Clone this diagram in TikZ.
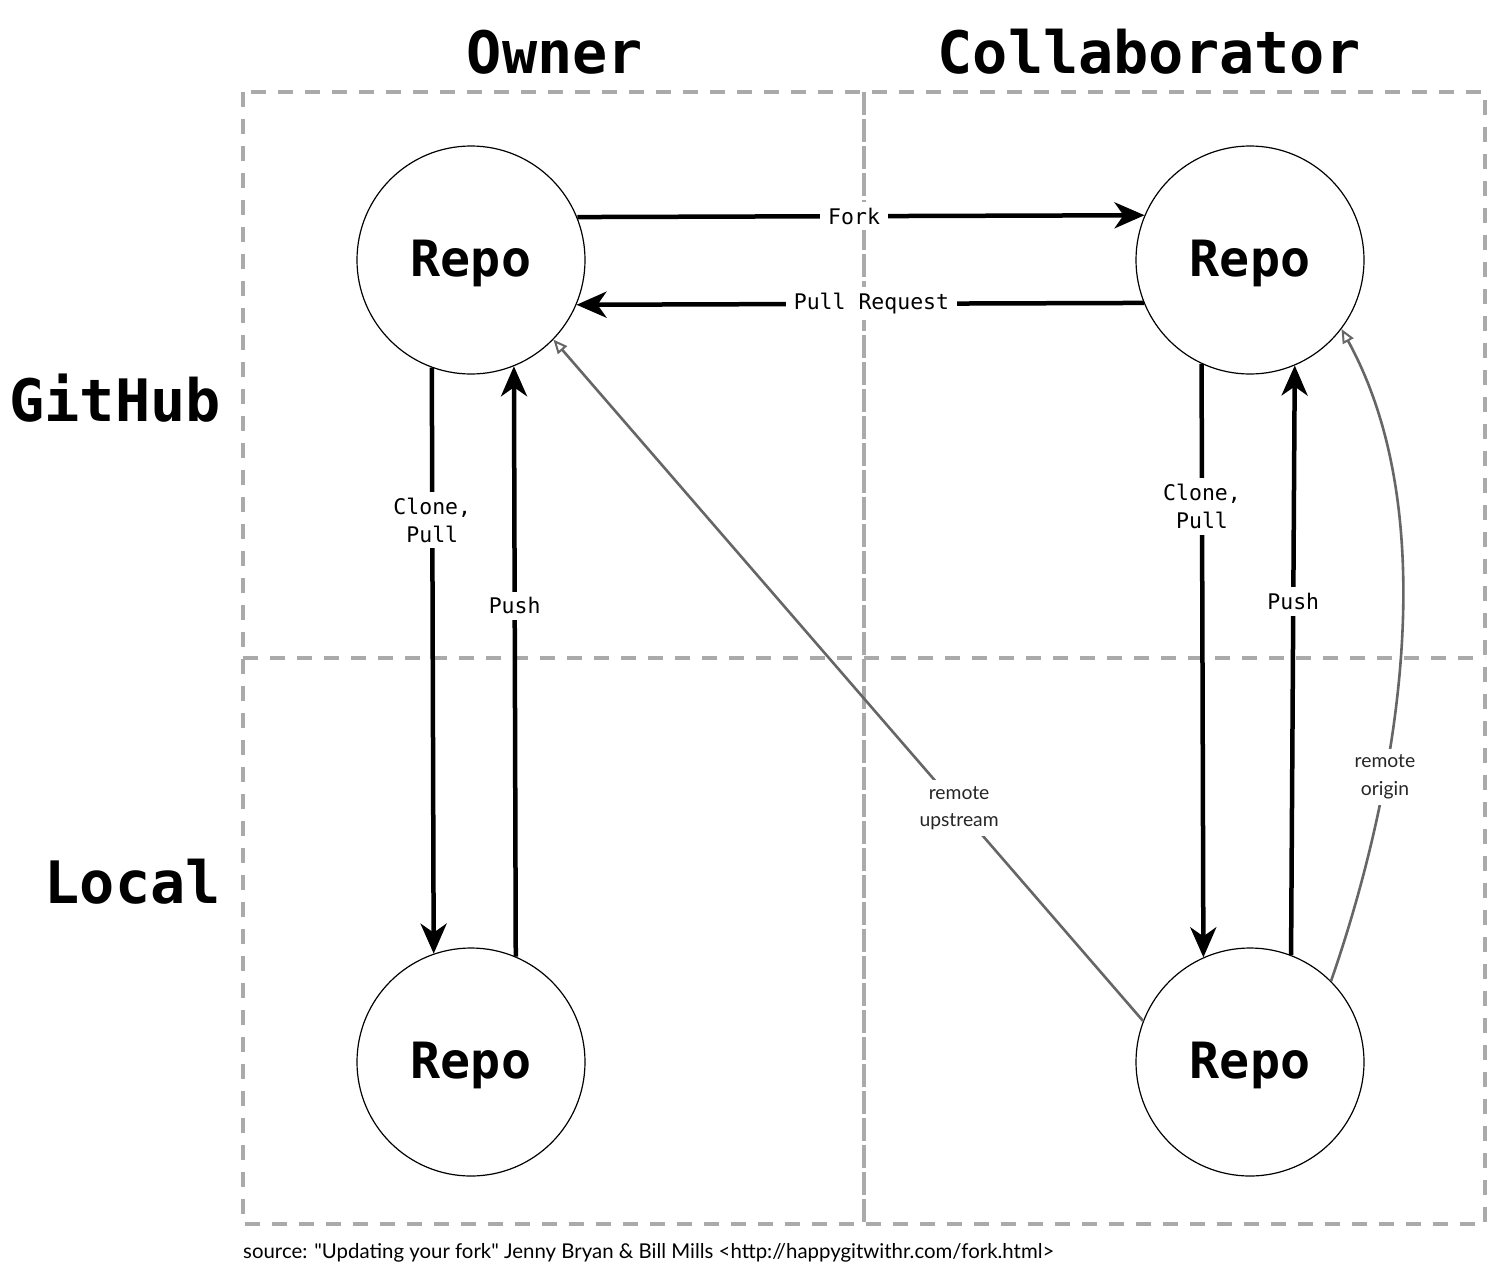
\documentclass[tikz,border=0pt]{standalone}
\usepackage{fontspec}
\setmainfont{Lato}
\setmonofont{DejaVu Sans Mono}
\newfontfamily\labfont{DejaVu Sans Mono}
\newfontfamily\sansfont{Lato}
\usetikzlibrary{arrows.meta}
\definecolor{gridgray}{HTML}{AAAAAA}
\definecolor{linkgray}{HTML}{666666}
\begin{document}
\begin{tikzpicture}[x=1pt,y=-1pt,
  repo/.style={circle,draw=black,line width=1.2pt,minimum size=228pt,inner sep=0pt,
    text depth=4pt,font=\labfont\bfseries\fontsize{50}{56}\selectfont},
  heading/.style={font=\labfont\bfseries\fontsize{58.5}{64}\selectfont,inner sep=0pt},
  grid/.style={draw=gridgray,line width=3.5pt,dash pattern=on 15pt off 12pt},
  flow/.style={draw=black,line width=4.5pt,-{Stealth[length=30pt,width=26pt,inset=9pt]}},
  flowlab/.style={fill=white,inner xsep=8pt,inner ysep=6pt,align=center,
    font=\labfont\fontsize{21.5}{28}\selectfont},
  link/.style={draw=linkgray,line width=2.6pt,-{Triangle[open,length=14pt,width=12pt,line width=2pt]}},
  linklab/.style={fill=white,inner sep=6pt,align=center,text=black!85,
    font=\sansfont\fontsize{19.3}{27.5}\selectfont},
  srclab/.style={font=\sansfont\fontsize{20.4}{24}\selectfont,inner sep=0pt,anchor=base west}
]
\useasboundingbox (0,0) rectangle (1500,1275);
\fill[white] (0,0) rectangle (1500,1275);

% grid
\draw[grid] (243,92) rectangle (864,1224);
\draw[grid] (864,92) rectangle (1485,1224);
\draw[grid] (243,658) -- (1485,658);

% headings
\node[heading] (hown) at (555,52) {Owner};
\node[heading] (hcol) at (1149,52) {Collaborator};
\node[heading,anchor=east] (hgit) at (221,398) {GitHub};
\node[heading,anchor=east] (hloc) at (221,882) {Local};

% repos
\node[repo] (og) at (471,260) {Repo};
\node[repo] (cg) at (1250,260) {Repo};
\node[repo] (ol) at (471,1062) {Repo};
\node[repo] (cl) at (1250,1062) {Repo};

% horizontal flows
\draw[flow] (og.22.6) -- node[flowlab,pos=0.488] {Fork} (cg.157.4);
\draw[flow] (cg.202.5) -- node[flowlab,pos=0.48] {Pull Request} (og.337.5);

% owner vertical
\draw[flow] (og.250.5) -- node[flowlab,pos=0.26] {Clone,\\Pull} (ol.109.5);
\draw[flow] (ol.67.8) -- node[flowlab,pos=0.594] {Push} (og.292.2);

% collaborator vertical
\draw[flow] (cg.245.7) -- node[flowlab,pos=0.24] {Clone,\\Pull} (cl.114.3);
\draw[flow] (cl.69.5) -- node[flowlab,pos=0.60] {Push} (cg.293.8);

% remotes
\draw[link] (cl.159.5) -- node[linklab,pos=0.312] {remote\\upstream} (og.316);
\draw[link] (cl.45.7) .. controls (1394,800) and (1448,523) .. node[linklab,pos=0.33] {remote\\origin} (cg.323.3);

% source
\node[srclab] (src) at (243,1258) {source: "Updating your fork" Jenny Bryan \& Bill Mills <http://happygitwithr.com/fork.html>};
\end{tikzpicture}
\end{document}
